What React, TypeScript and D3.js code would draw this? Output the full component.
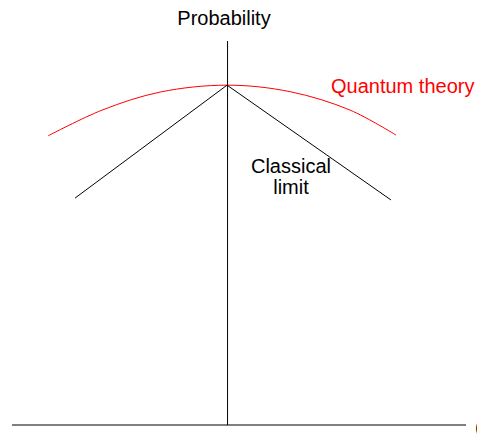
import React from "react";
import * as d3 from "d3";

const W = 477;
const H = 434;

// Axis extents (data units)
const xDomain = [-0.9, 1.0];
const yDomain = [0, 1];

// Quantum theory curve
const quantumX = [-0.749, -0.523, -0.28, 0, 0.264, 0.515, 0.707];
const quantumY = [0.753, 0.82, 0.867, 0.885, 0.868, 0.82, 0.755];

// Classical limit lines
const classicalX = [-0.636, 0, 0.686];
const classicalY = [0.591, 0.885, 0.586];

const labels = {
  yAxis: "Probability",
  quantum: "Quantum theory",
  classical: ["Classical", "limit"],
};

export default function App() {
  const x = d3.scaleLinear().domain(xDomain).range([12, 466]);
  const y = d3.scaleLinear().domain(yDomain).range([425, 41]);

  const qPts: [number, number][] = quantumX.map((v, i) => [v, quantumY[i]]);
  const cPts: [number, number][] = classicalX.map((v, i) => [v, classicalY[i]]);

  const qLine = d3
    .line<[number, number]>()
    .x((d) => x(d[0]))
    .y((d) => y(d[1]))
    .curve(d3.curveCatmullRom.alpha(0.5));
  const cLine = d3
    .line<[number, number]>()
    .x((d) => x(d[0]))
    .y((d) => y(d[1]));

  const font = "Liberation Sans, Arial, sans-serif";

  return (
    <div style={{ position: "absolute", left: 0, top: 0 }}>
      <svg width={W} height={H} style={{ display: "block", background: "#fff" }}>
        {/* axes */}
        <line x1={x(xDomain[0])} x2={x(xDomain[1])} y1={y(0)} y2={y(0)} stroke="#000" strokeWidth={1} />
        <line x1={x(0) + 0.5} x2={x(0) + 0.5} y1={y(0)} y2={y(1)} stroke="#000" strokeWidth={1} />
        {/* quantum curve */}
        <path d={qLine(qPts) || ""} fill="none" stroke="#ff0000" strokeWidth={1} />
        {/* classical lines */}
        <path d={cLine(cPts) || ""} fill="none" stroke="#000" strokeWidth={1} />
        {/* texts */}
        <text x={224} y={25} textAnchor="middle" fontFamily={font} fontSize={20} fill="#000">
          {labels.yAxis}
        </text>
        <text x={331} y={93} textAnchor="start" fontFamily={font} fontSize={20} fill="#ff0000">
          {labels.quantum}
        </text>
        <text x={291} y={173} textAnchor="middle" fontFamily={font} fontSize={20} fill="#000">
          {labels.classical[0]}
        </text>
        <text x={291} y={194} textAnchor="middle" fontFamily={font} fontSize={20} fill="#000">
          {labels.classical[1]}
        </text>
        <text x={475} y={433} fontFamily={font} fontSize={19} fill="#000">
          (
        </text>
      </svg>
    </div>
  );
}
